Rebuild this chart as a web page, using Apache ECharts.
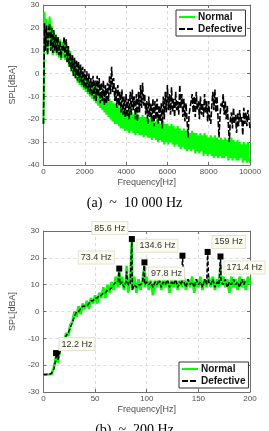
<!DOCTYPE html>
<html><head><meta charset="utf-8">
<script src="https://cdn.jsdelivr.net/npm/echarts@6/dist/echarts.min.js"></script>
<style>html,body{margin:0;padding:0;background:#fff}#c{width:269px;height:431px}</style>
</head><body><div id="c"></div>
<script>
// ---------- chart (a): up to 10 000 Hz, one value every 50 Hz ----------
const freqA = [
0,50,100,150,200,250,300,350,400,450,500,550,600,650,700,750,800,850,900,950,
1000,1050,1100,1150,1200,1250,1300,1350,1400,1450,1500,1550,1600,1650,1700,1750,1800,1850,1900,1950,
2000,2050,2100,2150,2200,2250,2300,2350,2400,2450,2500,2550,2600,2650,2700,2750,2800,2850,2900,2950,
3000,3050,3100,3150,3200,3250,3300,3350,3400,3450,3500,3550,3600,3650,3700,3750,3800,3850,3900,3950,
4000,4050,4100,4150,4200,4250,4300,4350,4400,4450,4500,4550,4600,4650,4700,4750,4800,4850,4900,4950,
5000,5050,5100,5150,5200,5250,5300,5350,5400,5450,5500,5550,5600,5650,5700,5750,5800,5850,5900,5950,
6000,6050,6100,6150,6200,6250,6300,6350,6400,6450,6500,6550,6600,6650,6700,6750,6800,6850,6900,6950,
7000,7050,7100,7150,7200,7250,7300,7350,7400,7450,7500,7550,7600,7650,7700,7750,7800,7850,7900,7950,
8000,8050,8100,8150,8200,8250,8300,8350,8400,8450,8500,8550,8600,8650,8700,8750,8800,8850,8900,8950,
9000,9050,9100,9150,9200,9250,9300,9350,9400,9450,9500,9550,9600,9650,9700,9750,9800,9850,9900,9950,
10000];
const normalA = [
-22,27,12,24,9,20,25,10,21,8,18,9,17,8,16,7,15,6,14,7,
15,6,14,5,12,3,10,1,8,0,6,-2,5,-4,4,-5,2,-6,1,-7,
-1,-8,-2,-9,-3,-10,-4,-11,-4,-12,-5,-13,-6,-14,-7,-15,-8,-16,-8,-17,
-9,-18,-10,-19,-11,-20,-12,-21,-13,-22,-13,-22,-14,-23,-15,-24,-15,-24,-16,-25,
-16,-25,-17,-26,-16,-25,-17,-26,-18,-27,-17,-26,-18,-27,-19,-27,-18,-28,-19,-27,
-19,-28,-20,-28,-19,-29,-20,-28,-21,-29,-20,-30,-21,-29,-22,-30,-21,-31,-22,-30,
-22,-31,-23,-30,-22,-31,-23,-32,-24,-31,-23,-32,-24,-33,-25,-32,-24,-33,-25,-34,
-25,-33,-26,-34,-25,-33,-26,-35,-26,-34,-27,-35,-26,-34,-27,-36,-26,-35,-27,-36,
-28,-35,-27,-36,-28,-37,-27,-36,-28,-37,-29,-36,-28,-37,-29,-37,-28,-36,-29,-38,
-29,-37,-28,-38,-29,-37,-30,-38,-29,-38,-30,-37,-31,-39,-30,-38,-31,-39,-30,-38,
-39];
const defectA = [
-22,22,10,21,8,19,22,10,20,9,19,10,17,9,16,8,14,7,12,10,
16,7,15,5,12,3,9,1,8,-1,7,-2,6,-3,5,-4,4,-5,3,-6,
2,-7,1,-8,0,-9,-2,-10,-1,-11,-3,-12,-1,-10,-2,-13,-4,-12,-3,-14,
-5,-13,-4,-12,-1,-9,3,-8,-2,-12,-6,-15,-5,-14,-8,-17,-7,-18,-10,-19,
-9,-19,-11,-20,-8,-18,-7,-16,-10,-20,-9,-21,-8,-17,-5,-15,-4,-14,-9,-18,
-12,-22,-10,-19,-13,-21,-11,-23,-12,-20,-11,-22,-14,-21,-13,-24,-10,-20,-8,-17,
-5,-16,-9,-18,-6,-17,-11,-19,-8,-16,-12,-18,-5,-15,-9,-19,-11,-21,-13,-20,
-28,-18,-15,-12,-9,-17,-10,-19,-8,-16,-12,-20,-10,-18,-13,-19,-9,-17,-12,-21,
-12,-20,-22,-14,-8,-16,-7,-17,-10,-19,-28,-18,-13,-15,-9,-18,-12,-20,-14,-22,
-30,-20,-17,-24,-15,-22,-18,-26,-17,-23,-16,-21,-19,-27,-15,-22,-17,-23,-16,-20,
-24];

// ---------- chart (b): up to 200 Hz ----------
const freqB = [0,2,4,6,8,10,12,12.2,14,16,18,20,22,24,26,28,30,32,34,36,38,40,42,44,46,48,50,52,54,56,58,60,62,64,66,68,70,72,73.4,74,76,78,80,80.5,82,84,85.6,86,88,90,92,94,96,97.8,98,
100,102,104,106,108,110,112,114,116,118,120,122,124,126,128,130,132,134,134.6,136,138,140,142,144,146,148,150,152,154,156,158,159,160,162,164,166,168,170,171.4,172,174,176,178,180,182,184,186,188,190,192,194,196,198,200];
const normalB = [-23.5,-23.6,-23.5,-23.4,-23.2,-21,-17,-17.5,-19,-14,-12,-11,-8,-9,-5,-4,0,-2,2,-1,3,1,4,1,5,3,6,3,7,5,9,5,10,7,11,8,13,9,15,10,13,8,12,17,7,12,26,8,13,7,12,8,12,17,9,
13,8,12,6,12,9,13,8,12,9,13,7,12,9,13,8,12,9,11,13,8,12,9,13,7,12,9,13,8,12,9,12,13,9,13,8,12,9,18,10,13,9,12,7,13,9,12,8,13,9,12,8,13,10];
const defectB = [-23.5,-23.5,-23.4,-23.4,-23,-21.5,-18,-15.5,-18,-15,-13,-12,-9,-8,-6,-4,-2,0,0,1,2,2,2,3,4,4,5,5,6,6,7,7,8,8,9,10,11,11,16,10,11,9,11,15,10,10,27,8,10,9,10,10,11,18.3,10,
11,10,11,9,11,10,12,9,11,10,12,9,11,10,12,9,11,10,20.8,11,9,12,10,11,9,12,10,11,9,12,10,22.2,11,10,12,9,11,10,20.5,11,10,12,9,11,10,12,10,11,9,12,10,12];

const peakFreqs = [12.2, 73.4, 85.6, 97.8, 134.6, 159, 171.4];
const peakVals  = [-15.5, 16, 27, 18.3, 20.8, 22.2, 20.5];
const peakLabels = ['12.2 Hz','73.4 Hz','85.6 Hz','97.8 Hz','134.6 Hz','159 Hz','171.4 Hz'];
const labelOffsets = [[21,-9],[-23,-11],[-22,-11],[22,11],[-25,-10],[21,-10],[24,11]];

const xTicksA = {min:0, max:10000, interval:2000};
const yTicksA = {min:-40, max:30, interval:10};
const xTicksB = {min:0, max:200, interval:50};
const yTicksB = {min:-30, max:30, interval:10};

const FONT = 'Liberation Sans, Arial, sans-serif';
const frame = '#6e6e6e';
const lbl = '#4d4d4d';
const plain = v => String(v);

function xAx(grid, t, top) {
  return Object.assign({}, t, {
    type:'value', gridIndex:grid, position: top ? 'top' : 'bottom',
    name: top ? '' : 'Frequency[Hz]', nameLocation:'middle', nameGap:13,
    nameTextStyle:{fontFamily:FONT, fontSize:9, color:lbl},
    axisLine:{show:true, onZero:false, lineStyle:{color:frame}},
    axisTick:{show:true, inside:true, length:3, lineStyle:{color:frame}},
    axisLabel:{show:!top, fontFamily:FONT, fontSize:8, color:lbl, margin:3, formatter:plain},
    splitLine:{show:!top, lineStyle:{type:[3,3], color:'#dcdcdc'}}
  });
}
function yAx(grid, t, right) {
  return Object.assign({}, t, {
    type:'value', gridIndex:grid, position: right ? 'right' : 'left',
    name: right ? '' : 'SPL[dBA]', nameLocation:'middle', nameGap:20,
    nameTextStyle:{fontFamily:FONT, fontSize:9, color:lbl},
    axisLine:{show:true, onZero:false, lineStyle:{color:frame}},
    axisTick:{show:true, inside:true, length:3, lineStyle:{color:frame}},
    axisLabel:{show:!right, fontFamily:FONT, fontSize:8, color:lbl, margin:4, formatter:plain},
    splitLine:{show:!right, lineStyle:{type:[3,3], color:'#dcdcdc'}}
  });
}

const legendBase = {
  orient:'vertical', data:['Normal','Defective'], backgroundColor:'#fff',
  borderColor:'#333', borderWidth:1, padding:[2,3,2,2], itemGap:2,
  itemWidth:16, itemHeight:10, selectedMode:false,
  lineStyle:{width:2},
  itemStyle:{opacity:0, borderWidth:0},
  textStyle:{fontFamily:FONT, fontSize:10, fontWeight:'bold', color:'#111', padding:[0,0,0,-2]}
};

const chart = echarts.init(document.getElementById('c'), null, {renderer:'canvas'});
chart.setOption({
  animation:false,
  title:[
    {text:'(a)  ~  10 000 Hz', left:'center', top:191, textStyle:{fontFamily:'Liberation Serif, Times New Roman, serif', fontSize:14, fontWeight:'normal', color:'#000'}},
    {text:'(b)  ~  200 Hz', left:'center', top:418, textStyle:{fontFamily:'Liberation Serif, Times New Roman, serif', fontSize:14, fontWeight:'normal', color:'#000'}}
  ],
  grid:[
    {left:29, top:5, width:221, height:160},
    {left:29, top:231, width:221, height:161}
  ],
  xAxis:[xAx(0,xTicksA,false), xAx(1,xTicksB,false), xAx(0,xTicksA,true), xAx(1,xTicksB,true)],
  yAxis:[yAx(0,yTicksA,false), yAx(1,yTicksB,false), yAx(0,yTicksA,true), yAx(1,yTicksB,true)],
  legend:[
    Object.assign({}, legendBase, {left:176, top:10}),
    Object.assign({}, legendBase, {left:179, top:362})
  ],
  series:[
    {name:'Normal', type:'line', xAxisIndex:0, yAxisIndex:0, symbol:'none', data:freqA.map((f,i)=>[f,normalA[i]]),
     lineStyle:{color:'#00ff00', width:2}, itemStyle:{color:'#00ff00'}, z:2},
    {name:'Defective', type:'line', xAxisIndex:0, yAxisIndex:0, symbol:'none', data:freqA.map((f,i)=>[f,defectA[i]]),
     lineStyle:{color:'#000', width:1.6, type:[6,2]}, itemStyle:{color:'#000'}, z:3},
    {name:'Normal', type:'line', xAxisIndex:1, yAxisIndex:1, symbol:'none', data:freqB.map((f,i)=>[f,normalB[i]]),
     lineStyle:{color:'#00ff00', width:2.6}, itemStyle:{color:'#00ff00'}, z:2},
    {name:'Defective', type:'line', xAxisIndex:1, yAxisIndex:1, symbol:'none', data:freqB.map((f,i)=>[f,defectB[i]]),
     lineStyle:{color:'#000', width:1.5, type:[4,2]}, itemStyle:{color:'#000'}, z:3,
     markPoint:{
       symbol:'rect', symbolSize:6, itemStyle:{color:'#000'}, z:5,
       data: peakFreqs.map((f,i)=>({
         coord:[f, peakVals[i]], name:peakLabels[i],
         label:{show:true, formatter:peakLabels[i], position:[3+labelOffsets[i][0], 3+labelOffsets[i][1]],
                align:'center', verticalAlign:'middle', fontFamily:FONT, fontSize:9, color:'#333',
                backgroundColor:'#fbfbef', borderColor:'#e2e2d6', borderWidth:1, padding:[2,2,1,2]}
       }))
     }}
  ]
});
</script></body></html>
